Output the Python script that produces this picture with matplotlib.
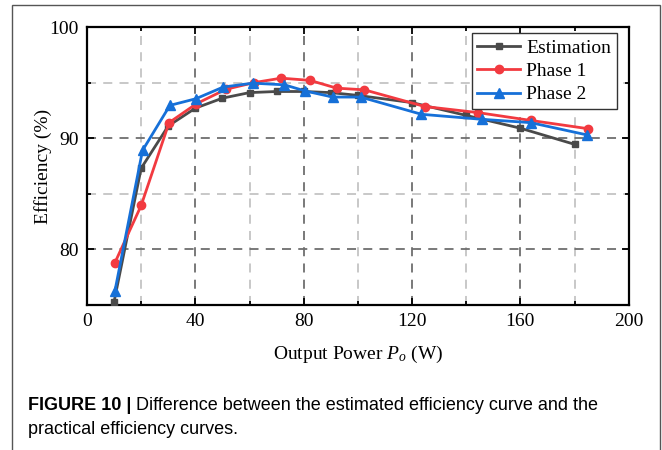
import numpy as np
import matplotlib
matplotlib.use('Agg')
import matplotlib.pyplot as plt
from matplotlib.patches import Rectangle
from matplotlib.ticker import MultipleLocator

# data
est_x = [10, 20, 30, 40, 50, 60, 70, 80, 90, 100, 120, 140, 160, 180]
est_y = [75.3, 87.3, 91.1, 92.7, 93.6, 94.1, 94.2, 94.2, 94.1, 93.85, 93.2, 92.05, 90.9, 89.45]

ph1_x = [10.3, 20, 30.3, 40.4, 51.3, 61.7, 71.7, 82.3, 92.2, 102.4, 124.7, 144.4, 163.8, 185.1]
ph1_y = [78.8, 83.95, 91.4, 93.1, 94.4, 95.0, 95.4, 95.2, 94.5, 94.35, 92.85, 92.3, 91.6, 90.85]

ph2_x = [10.3, 20.5, 30.6, 40.2, 50.3, 61.2, 72.9, 80.5, 90.7, 101, 123.5, 145.7, 163.8, 184.5]
ph2_y = [76.25, 88.9, 92.95, 93.55, 94.6, 94.95, 94.8, 94.25, 93.7, 93.7, 92.15, 91.7, 91.4, 90.3]

serif = 'Liberation Serif'
sans = 'Liberation Sans'

plt.rcParams['mathtext.fontset'] = 'custom'
plt.rcParams['mathtext.it'] = 'Liberation Serif:italic'
plt.rcParams['mathtext.rm'] = 'Liberation Serif'

fig = plt.figure(figsize=(6.62, 4.5), dpi=100)
ax = fig.add_axes([87/662, 1-305/450, (628.7-87)/662, (305-27)/450])

# grid
for x in [20, 60, 100, 140, 180]:
    ax.axvline(x, color='#c4c4c4', ls=(0, (5, 4)), lw=1.3, zorder=0)
for x in [40, 80, 120, 160]:
    ax.axvline(x, color='#6e6e6e', ls=(0, (5, 4)), lw=1.3, zorder=0)
for y in [85, 95]:
    ax.axhline(y, color='#c4c4c4', ls=(0, (5, 4)), lw=1.3, zorder=0)
for y in [80, 90]:
    ax.axhline(y, color='#6e6e6e', ls=(0, (5, 4)), lw=1.3, zorder=0)

ax.plot(est_x, est_y, '-s', color='#4a4a4a', lw=2, ms=5, label='Estimation', zorder=3)
ax.plot(ph1_x, ph1_y, '-o', color='#f23a40', lw=2, ms=6, label='Phase 1', zorder=4)
ax.plot(ph2_x, ph2_y, '-^', color='#1670d8', lw=2, ms=6.5, label='Phase 2', zorder=5)

ax.set_xlim(0, 200)
ax.set_ylim(75, 100)
ax.xaxis.set_major_locator(MultipleLocator(40))
ax.xaxis.set_minor_locator(MultipleLocator(20))
ax.yaxis.set_major_locator(MultipleLocator(10))
ax.yaxis.set_minor_locator(MultipleLocator(5))
ax.tick_params(which='both', direction='in', top=True, right=True, width=1.3)
ax.tick_params(which='major', length=5, labelsize=14, pad=6)
ax.tick_params(which='minor', length=3)
for lab in ax.get_xticklabels() + ax.get_yticklabels():
    lab.set_fontfamily(serif)
for s in ax.spines.values():
    s.set_linewidth(1.6)

ax.set_xlabel('Output Power $P_o$ (W)', fontsize=14, fontfamily=serif, labelpad=10)
ax.set_ylabel('Efficiency (%)', fontsize=14, fontfamily=serif, labelpad=-2)

leg = ax.legend(loc='upper right', bbox_to_anchor=(0.978, 0.978), borderaxespad=0,
                fancybox=False, edgecolor='#333333', framealpha=1, handlelength=2.2,
                handletextpad=0.3, borderpad=0.3, labelspacing=0.3,
                prop={'family': serif, 'size': 14})
leg.get_frame().set_linewidth(1.0)

# outer frame
fig.patches.append(Rectangle((12/662, -0.1), (660-12)/662, 1.1-5/450,
                             transform=fig.transFigure, fill=False,
                             edgecolor='#555555', lw=1.0))

# caption
t1 = fig.text(28/662, 1-405/450, 'FIGURE 10 | ', fontsize=13, fontfamily=sans,
              fontweight='bold', va='center')
fig.canvas.draw()
bb = t1.get_window_extent()
fig.text(bb.x1/fig.bbox.width, 1-405/450,
         'Difference between the estimated efficiency curve and the',
         fontsize=13, fontfamily=sans, va='center')
fig.text(28/662, 1-430/450, 'practical efficiency curves.', fontsize=13,
         fontfamily=sans, va='center')

fig.savefig('out.png', dpi=100)
